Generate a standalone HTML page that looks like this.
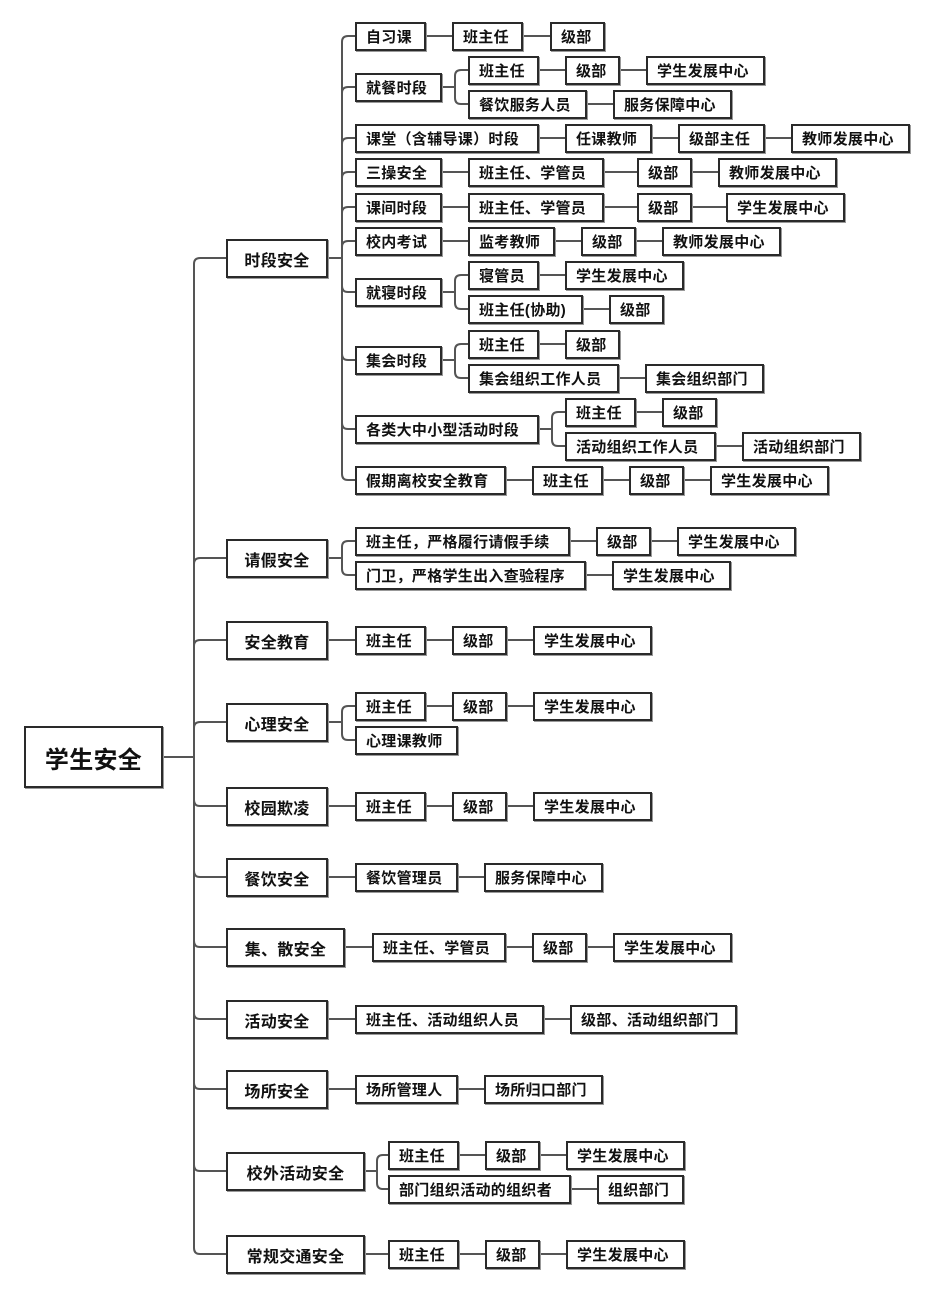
<!DOCTYPE html>
<html><head><meta charset="utf-8"><style>
html,body{margin:0;padding:0;background:#fff;}
body{width:929px;height:1295px;position:relative;overflow:hidden;font-family:"Liberation Sans","Noto Sans CJK SC",sans-serif;}
.b{position:absolute;box-sizing:border-box;height:29px;border:2px solid #2a2a2a;box-shadow:1px 1px 0 #999;background:#fff;font-size:15px;font-weight:bold;color:#111;display:flex;align-items:center;padding-left:9px;white-space:nowrap;letter-spacing:0.3px}
.l{height:39px;font-size:16px;justify-content:center;padding-left:0}
.r{left:24px;top:726px;width:139px;height:62px;font-size:24px;justify-content:center;padding-left:0}
svg{position:absolute;left:0;top:0}
path{fill:none;stroke:#555;stroke-width:2}
</style></head><body>
<svg width="929" height="1295">
<path d="M162 757H194" stroke-width="3"/>
<path d="M194 264V1248" stroke-width="3"/>
<path d="M194 264Q194 258 200 258H226M194 564Q194 558 200 558H226M194 646Q194 640 200 640H226M194 728Q194 722 200 722H226M194 800Q194 806 200 806H226M194 871Q194 877 200 877H226M194 941Q194 947 200 947H226M194 1013Q194 1019 200 1019H226M194 1083Q194 1089 200 1089H226M194 1165Q194 1171 200 1171H226M194 1248Q194 1254 200 1254H226"/>
<path d="M327 258H342M342 42V474M342 42Q342 36 348 36H355M342 93Q342 87 348 87H355M342 144Q342 138 348 138H355M342 178Q342 172 348 172H355M342 213Q342 207 348 207H355M342 247Q342 241 348 241H355M342 286Q342 292 348 292H355M342 354Q342 360 348 360H355M342 423Q342 429 348 429H355M342 474Q342 480 348 480H355"/>
<path d="M425 36H452M522 36H550"/>
<path d="M441 87H455M455 76V98M455 76Q455 70 461 70H468M455 98Q455 104 461 104H468M538 70H565M619 70H646M586 104H613"/>
<path d="M538 138H565M651 138H678M764 138H791"/>
<path d="M441 172H468M603 172H637M691 172H718"/>
<path d="M441 207H468M603 207H637M691 207H726"/>
<path d="M441 241H468M554 241H581M635 241H662"/>
<path d="M441 292H455M455 281V303M455 281Q455 275 461 275H468M455 303Q455 309 461 309H468M538 275H565M582 309H609"/>
<path d="M441 360H455M455 350V372M455 350Q455 344 461 344H468M455 372Q455 378 461 378H468M538 344H565M618 378H645"/>
<path d="M538 429H552M552 418V440M552 418Q552 412 558 412H565M552 440Q552 446 558 446H565M635 412H662M715 446H742"/>
<path d="M505 480H532M602 480H629M683 480H710"/>
<path d="M327 558H342M342 547V569M342 547Q342 541 348 541H355M342 569Q342 575 348 575H355M569 541H596M650 541H677M585 575H612"/>
<path d="M327 640H355M425 640H452M506 640H533"/>
<path d="M327 722H342M342 712V734M342 712Q342 706 348 706H355M342 734Q342 740 348 740H355M425 706H452M506 706H533"/>
<path d="M327 806H355M425 806H452M506 806H533"/>
<path d="M327 877H355M457 877H484"/>
<path d="M344 947H372M505 947H532M586 947H613"/>
<path d="M327 1019H355M543 1019H570"/>
<path d="M327 1089H355M457 1089H484"/>
<path d="M364 1171H377M377 1161V1183M377 1161Q377 1155 383 1155H388M377 1183Q377 1189 383 1189H388M458 1155H485M539 1155H566M570 1189H597"/>
<path d="M364 1254H388M458 1254H485M539 1254H566"/>
</svg>

<div class="b r">学生安全</div>

<div class="b l" style="left:226px;top:239px;width:102px">时段安全</div>
<div class="b l" style="left:226px;top:539px;width:102px">请假安全</div>
<div class="b l" style="left:226px;top:621px;width:102px">安全教育</div>
<div class="b l" style="left:226px;top:703px;width:102px">心理安全</div>
<div class="b l" style="left:226px;top:787px;width:102px">校园欺凌</div>
<div class="b l" style="left:226px;top:858px;width:102px">餐饮安全</div>
<div class="b l" style="left:226px;top:928px;width:119px">集、散安全</div>
<div class="b l" style="left:226px;top:1000px;width:102px">活动安全</div>
<div class="b l" style="left:226px;top:1070px;width:102px">场所安全</div>
<div class="b l" style="left:226px;top:1152px;width:139px">校外活动安全</div>
<div class="b l" style="left:226px;top:1235px;width:139px">常规交通安全</div>

<div class="b" style="left:355px;top:22px;width:71px">自习课</div>
<div class="b" style="left:452px;top:22px;width:71px">班主任</div>
<div class="b" style="left:550px;top:22px;width:55px">级部</div>

<div class="b" style="left:355px;top:73px;width:87px">就餐时段</div>
<div class="b" style="left:468px;top:56px;width:71px">班主任</div>
<div class="b" style="left:565px;top:56px;width:55px">级部</div>
<div class="b" style="left:646px;top:56px;width:119px">学生发展中心</div>
<div class="b" style="left:468px;top:90px;width:119px">餐饮服务人员</div>
<div class="b" style="left:613px;top:90px;width:119px">服务保障中心</div>

<div class="b" style="left:355px;top:124px;width:184px">课堂（含辅导课）时段</div>
<div class="b" style="left:565px;top:124px;width:87px">任课教师</div>
<div class="b" style="left:678px;top:124px;width:87px">级部主任</div>
<div class="b" style="left:791px;top:124px;width:119px">教师发展中心</div>

<div class="b" style="left:355px;top:158px;width:87px">三操安全</div>
<div class="b" style="left:468px;top:158px;width:136px">班主任、学管员</div>
<div class="b" style="left:637px;top:158px;width:55px">级部</div>
<div class="b" style="left:718px;top:158px;width:119px">教师发展中心</div>

<div class="b" style="left:355px;top:193px;width:87px">课间时段</div>
<div class="b" style="left:468px;top:193px;width:136px">班主任、学管员</div>
<div class="b" style="left:637px;top:193px;width:55px">级部</div>
<div class="b" style="left:726px;top:193px;width:119px">学生发展中心</div>

<div class="b" style="left:355px;top:227px;width:87px">校内考试</div>
<div class="b" style="left:468px;top:227px;width:87px">监考教师</div>
<div class="b" style="left:581px;top:227px;width:55px">级部</div>
<div class="b" style="left:662px;top:227px;width:119px">教师发展中心</div>

<div class="b" style="left:355px;top:278px;width:87px">就寝时段</div>
<div class="b" style="left:468px;top:261px;width:71px">寝管员</div>
<div class="b" style="left:565px;top:261px;width:119px">学生发展中心</div>
<div class="b" style="left:468px;top:295px;width:115px">班主任(协助)</div>
<div class="b" style="left:609px;top:295px;width:55px">级部</div>

<div class="b" style="left:355px;top:346px;width:87px">集会时段</div>
<div class="b" style="left:468px;top:330px;width:71px">班主任</div>
<div class="b" style="left:565px;top:330px;width:55px">级部</div>
<div class="b" style="left:468px;top:364px;width:151px">集会组织工作人员</div>
<div class="b" style="left:645px;top:364px;width:119px">集会组织部门</div>

<div class="b" style="left:355px;top:415px;width:184px">各类大中小型活动时段</div>
<div class="b" style="left:565px;top:398px;width:71px">班主任</div>
<div class="b" style="left:662px;top:398px;width:55px">级部</div>
<div class="b" style="left:565px;top:432px;width:151px">活动组织工作人员</div>
<div class="b" style="left:742px;top:432px;width:119px">活动组织部门</div>

<div class="b" style="left:355px;top:466px;width:151px">假期离校安全教育</div>
<div class="b" style="left:532px;top:466px;width:71px">班主任</div>
<div class="b" style="left:629px;top:466px;width:55px">级部</div>
<div class="b" style="left:710px;top:466px;width:119px">学生发展中心</div>

<div class="b" style="left:355px;top:527px;width:215px">班主任，严格履行请假手续</div>
<div class="b" style="left:596px;top:527px;width:55px">级部</div>
<div class="b" style="left:677px;top:527px;width:119px">学生发展中心</div>
<div class="b" style="left:355px;top:561px;width:231px">门卫，严格学生出入查验程序</div>
<div class="b" style="left:612px;top:561px;width:119px">学生发展中心</div>

<div class="b" style="left:355px;top:626px;width:71px">班主任</div>
<div class="b" style="left:452px;top:626px;width:55px">级部</div>
<div class="b" style="left:533px;top:626px;width:119px">学生发展中心</div>

<div class="b" style="left:355px;top:692px;width:71px">班主任</div>
<div class="b" style="left:452px;top:692px;width:55px">级部</div>
<div class="b" style="left:533px;top:692px;width:119px">学生发展中心</div>
<div class="b" style="left:355px;top:726px;width:103px">心理课教师</div>

<div class="b" style="left:355px;top:792px;width:71px">班主任</div>
<div class="b" style="left:452px;top:792px;width:55px">级部</div>
<div class="b" style="left:533px;top:792px;width:119px">学生发展中心</div>

<div class="b" style="left:355px;top:863px;width:103px">餐饮管理员</div>
<div class="b" style="left:484px;top:863px;width:119px">服务保障中心</div>

<div class="b" style="left:372px;top:933px;width:134px">班主任、学管员</div>
<div class="b" style="left:532px;top:933px;width:55px">级部</div>
<div class="b" style="left:613px;top:933px;width:119px">学生发展中心</div>

<div class="b" style="left:355px;top:1005px;width:189px">班主任、活动组织人员</div>
<div class="b" style="left:570px;top:1005px;width:167px">级部、活动组织部门</div>

<div class="b" style="left:355px;top:1075px;width:103px">场所管理人</div>
<div class="b" style="left:484px;top:1075px;width:119px">场所归口部门</div>

<div class="b" style="left:388px;top:1141px;width:71px">班主任</div>
<div class="b" style="left:485px;top:1141px;width:55px">级部</div>
<div class="b" style="left:566px;top:1141px;width:119px">学生发展中心</div>
<div class="b" style="left:388px;top:1175px;width:183px">部门组织活动的组织者</div>
<div class="b" style="left:597px;top:1175px;width:87px">组织部门</div>

<div class="b" style="left:388px;top:1240px;width:71px">班主任</div>
<div class="b" style="left:485px;top:1240px;width:55px">级部</div>
<div class="b" style="left:566px;top:1240px;width:119px">学生发展中心</div>
</body></html>
